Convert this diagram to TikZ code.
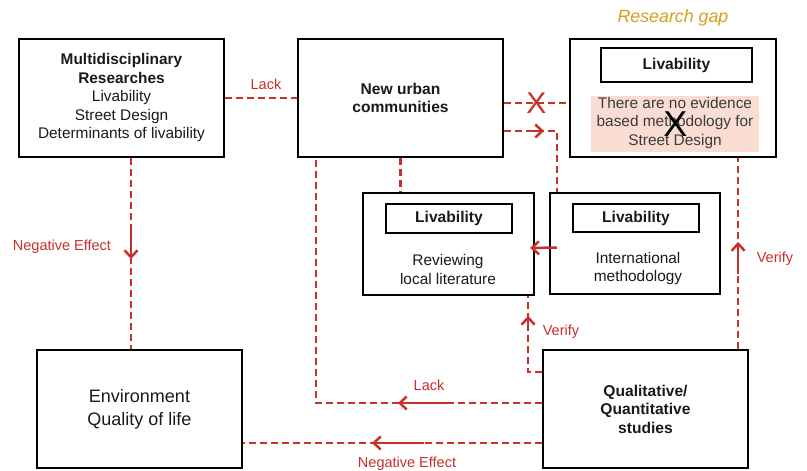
\documentclass[tikz,border=0pt]{standalone}
\usepackage{fontspec}
\setmainfont{Liberation Sans}
\usetikzlibrary{arrows.meta,decorations.markings,calc}
\definecolor{rd}{HTML}{C8302A}
\definecolor{gold}{HTML}{D4A11E}
\definecolor{pinkfill}{HTML}{FADDD2}
\definecolor{txt}{HTML}{1A1A1A}
\begin{document}
\begin{tikzpicture}[x=1pt,y=-1pt,
  box/.style 2 args={draw=black,line width=2.2pt,minimum width=#1,minimum height=#2,inner sep=0pt},
  txt/.style={text=txt,align=center,font=\fontsize{15.4}{18.5}\selectfont},
  btxt/.style={text=txt,align=center,font=\fontsize{15.6}{18.5}\selectfont\bfseries},
  lbl/.style={text=rd,font=\fontsize{14.5}{16}\selectfont,inner sep=0pt},
  link/.style={draw=rd,line width=2.5pt,dash pattern=on 7pt off 4pt},
  tip/.style={-{Straight Barb[length=7pt,width=13pt,line width=2.5pt]}},
  marr/.style 2 args={postaction={decorate,decoration={markings,mark=at position #1 with {\draw[rd,solid,line width=2.5pt,tip] (-#2,0) -- (0,0);}}}},
]
\useasboundingbox[fill=white] (0,0) rectangle (807,471);

% main boxes
\node[box={205pt}{118pt},txt] (A) at (121.5,98) {\textbf{Multidisciplinary}\\\textbf{Researches}\\Livability\\Street Design\\Determinants of livability};
\node[box={205pt}{118pt},btxt] (B) at (400.5,98) {New urban\\communities};
\node[box={206pt}{118pt}] (C) at (673,98) {};
\node[box={205pt}{118pt},btxt] (F) at (645.5,409) {Qualitative/\\Quantitative\\studies};
\node[box={205pt}{118pt},txt,font=\fontsize{18}{23}\selectfont] (G) at (139.5,409) {Environment\\Quality of life};

% research gap box content
\node[text=gold,font=\fontsize{17.8}{20}\selectfont\itshape] (gap) at (673,18) {Research gap};
\node[box={151pt}{34pt},btxt] (Cin) at (676.5,65) {Livability};
\node[fill=pinkfill,minimum width=168pt,minimum height=56pt,inner sep=0pt] (Cpink) at (675,124) {};
\node[txt,text=txt!85,font=\fontsize{15.4}{18.5}\selectfont] (Ctxt) at (675,123) {There are no evidence\\based methodology for\\Street Design};
\node[text=black,font=\fontsize{36}{36}\selectfont,inner sep=0pt] (Cx) at (675.5,124) {X};

% middle boxes
\node[box={171pt}{102pt}] (D) at (448.5,244) {};
\node[box={126pt}{29pt},btxt] (Din) at (449,218.5) {Livability};
\node[txt] (Dtxt) at (448,269.5) {Reviewing\\local literature};
\node[box={170pt}{101pt}] (E) at (635,243.5) {};
\node[box={126pt}{28pt},btxt] (Ein) at (636,218) {Livability};
\node[txt] (Etxt) at (638,268.5) {International\\methodology};

% connectors
\draw[link] (A.east) -- (B.west);
\node[lbl] (l1) at (266,84) {Lack};

\draw[link] ([yshift=-5pt]B.east) -- node[pos=0.5,text=rd,font=\fontsize{30}{30}\selectfont,inner sep=0pt] (rx) {X} ([yshift=-5pt]C.west);

\draw[link,marr={40pt}{12pt}] ([yshift=-33pt]B.east) -| ([xshift=8pt]E.north west);

\draw[link] (B.south) -- (B.south |- D.north);

\draw[rd,line width=2.5pt,tip] ([xshift=8pt,yshift=-4pt]E.west) -- ([xshift=-5pt,yshift=-4pt]D.east);

\draw[link,marr={144pt}{49pt}] ([yshift=6pt]F.west) -| ([xshift=19pt]B.south west);
\node[lbl] (l2) at (429,385) {Lack};

\draw[link,marr={170pt}{52pt}] ([yshift=-34pt]F.west) -- ([yshift=-34pt]G.east);
\node[lbl] (l3) at (407,464) {Negative Effect};

\draw[link,marr={70pt}{15pt}] ([yshift=37pt]F.west) -| ([xshift=-7pt]D.south east);
\node[lbl] (l4) at (561,332) {Verify};

\draw[link,marr={107pt}{32pt}] ([xshift=-11pt]F.north east) -- ([xshift=-11pt]F.north east |- C.south);
\node[lbl] (l5) at (775,259) {Verify};

\draw[link,marr={101pt}{28pt}] ([xshift=9.5pt]A.south) -- ([xshift=9.5pt]A.south |- G.north);
\node[lbl] (l6) at (62,247) {Negative Effect};

\end{tikzpicture}
\end{document}
